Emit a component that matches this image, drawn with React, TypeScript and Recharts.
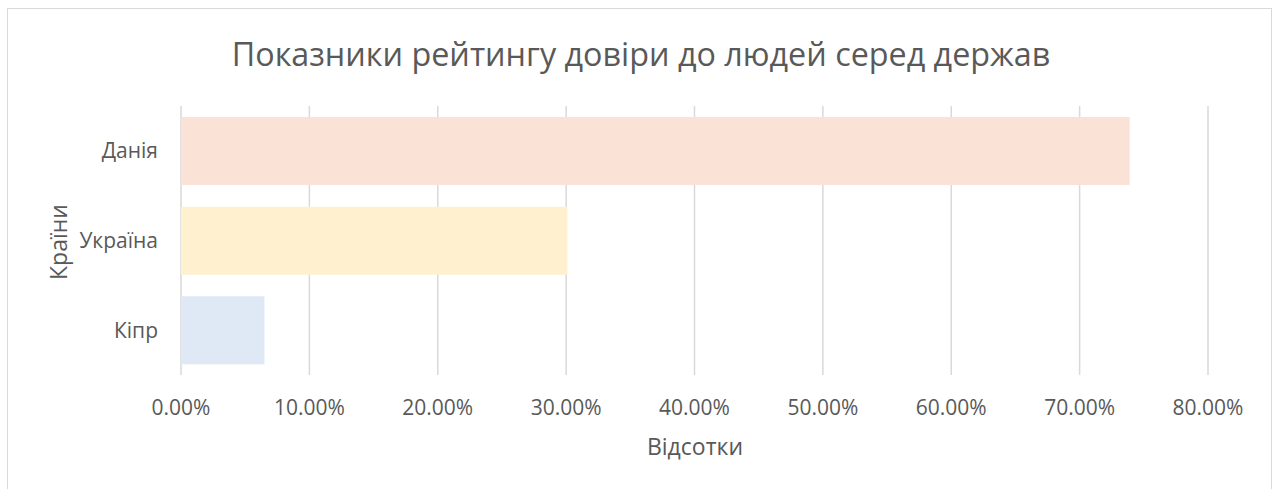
import React from "react";
import { BarChart, Bar, XAxis, YAxis, CartesianGrid, Cell } from "recharts";

const categories = ["Данія", "Україна", "Кіпр"];
const values = [0.739, 0.301, 0.065];
const colors = ["#FAE3D6", "#FFF1CF", "#DEE9F5"];
const xTicks = [0, 0.1, 0.2, 0.3, 0.4, 0.5, 0.6, 0.7, 0.8];

const data = categories.map((c, i) => ({ name: c, value: values[i] }));

const FONT = "'Open Sans', sans-serif";
const TEXT = "#595959";

export default function App() {
  return (
    <div style={{ position: "relative", width: 1279, height: 489 }}>
      <style>{`body{margin:0;overflow:hidden;}`}</style>
      <div
        style={{
          position: "absolute",
          left: 7,
          top: 8,
          width: 1265,
          height: 490,
          border: "1px solid #D9D9D9",
          borderBottom: "none",
          boxSizing: "border-box",
        }}
      />
      <div style={{ position: "absolute", left: 0, top: 0 }}>
        <BarChart
          width={1279}
          height={489}
          data={data}
          layout="vertical"
          margin={{ top: 106, right: 71, left: 81, bottom: 54 }}
          barSize={68}
        >
          <CartesianGrid horizontal={false} stroke="#D9D9D9" strokeWidth={1.5} />
          <XAxis
            type="number"
            domain={[0, 0.8]}
            ticks={xTicks}
            interval={0}
            tickFormatter={(v: number) => (v * 100).toFixed(2) + "%"}
            axisLine={false}
            tickLine={false}
            tickSize={0}
            tickMargin={25}
            height={60}
            tick={{ fill: TEXT, fontSize: 21, fontFamily: FONT }}
          />
          <YAxis
            type="category"
            dataKey="name"
            width={100}
            axisLine={false}
            tickLine={false}
            tickSize={0}
            tickMargin={23}
            tick={{ fill: TEXT, fontSize: 21, fontFamily: FONT }}
          />
          <Bar dataKey="value" isAnimationActive={false}>
            {data.map((d, i) => (
              <Cell key={d.name} fill={colors[i]} />
            ))}
          </Bar>
        </BarChart>
      </div>
      <svg
        width={1279}
        height={489}
        style={{ position: "absolute", left: 0, top: 0, pointerEvents: "none" }}
      >
        <text
          x={641}
          y={66}
          textAnchor="middle"
          fill={TEXT}
          fontSize={32.3}
          fontFamily={FONT}
        >
          Показники рейтингу довіри до людей серед держав
        </text>
        <text
          x={695}
          y={455}
          textAnchor="middle"
          fill={TEXT}
          fontSize={23}
          fontFamily={FONT}
        >
          Відсотки
        </text>
        <text
          transform="translate(67,242) rotate(-90)"
          textAnchor="middle"
          fill={TEXT}
          fontSize={23}
          fontFamily={FONT}
        >
          Країни
        </text>
      </svg>
    </div>
  );
}
